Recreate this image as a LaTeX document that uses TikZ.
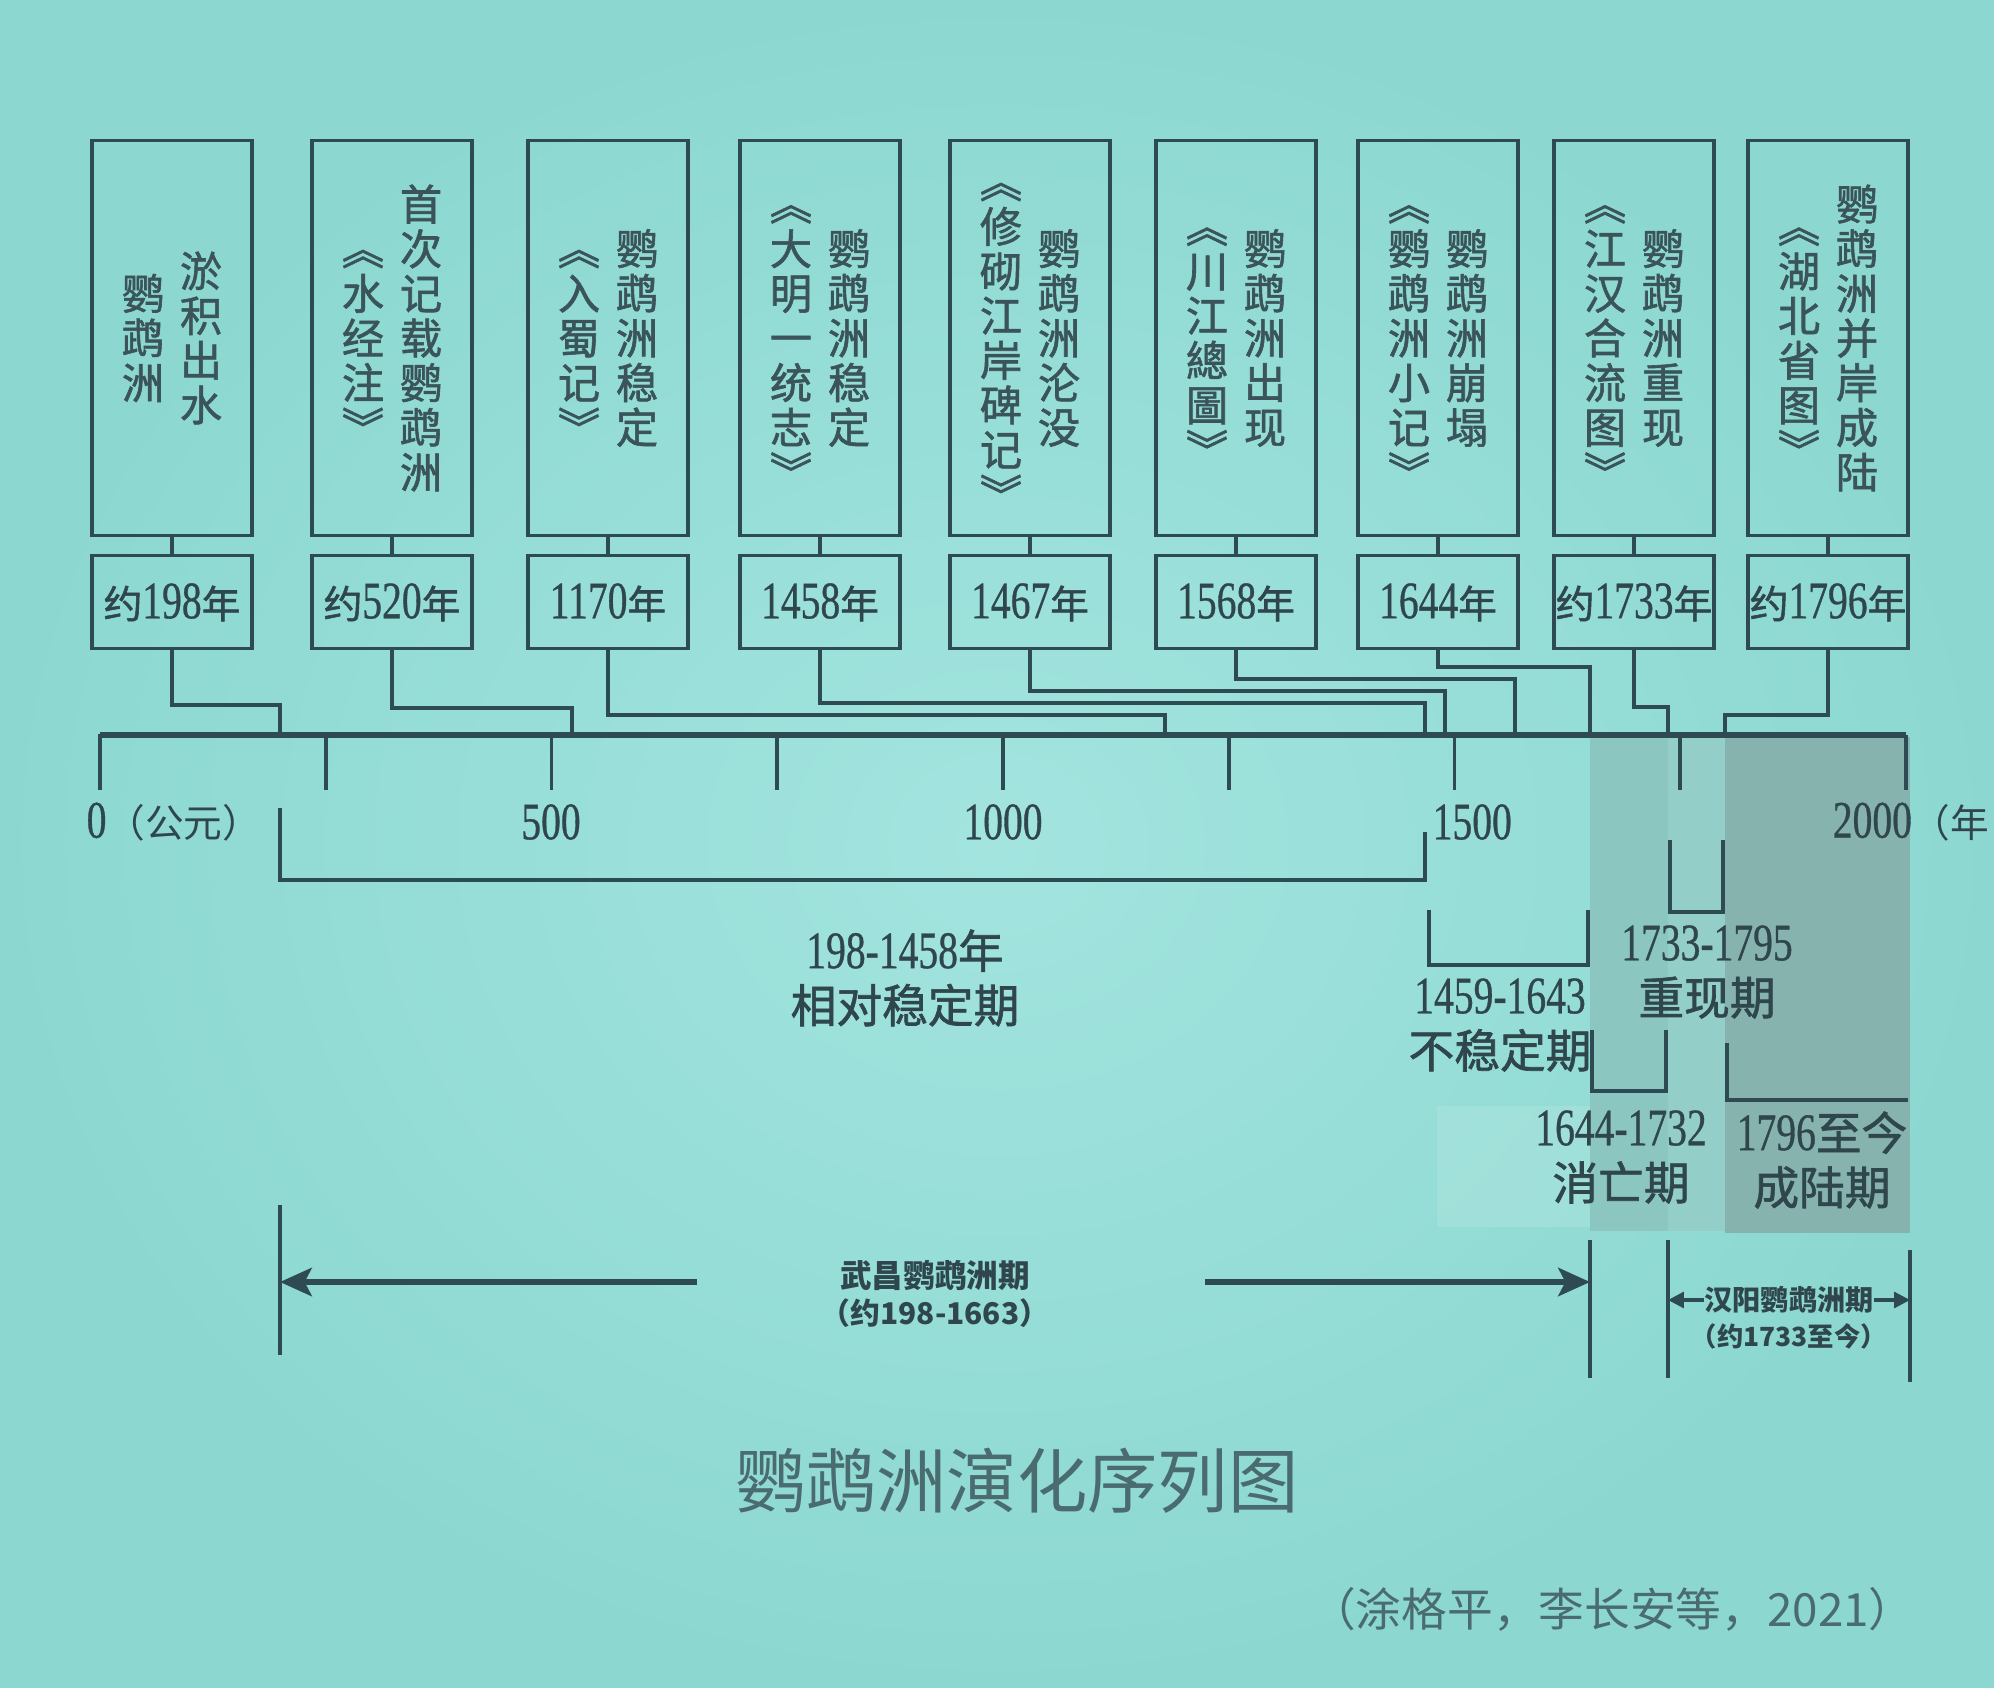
\documentclass[tikz,border=0pt]{standalone}
\usepackage{fontspec}
\setmainfont{Noto Sans CJK SC}
\newfontfamily\cjkb[FakeBold=1.4]{Noto Sans CJK SC}
\newfontfamily\numf[FakeStretch=0.75, FakeBold=0.6]{Liberation Serif}
\usetikzlibrary{positioning, arrows.meta, calc}
\definecolor{cBg}{HTML}{8CD8D1}
\definecolor{cBgIn}{HTML}{A3E4DF}
\definecolor{cInk}{HTML}{2E4A53}
\definecolor{cTxt}{HTML}{2F464D}
\definecolor{cBoxTxt}{HTML}{3A5459}
\definecolor{cSoft}{HTML}{4A6C70}
\definecolor{cShA}{HTML}{8CC6C0}
\definecolor{cShB}{HTML}{93CEC8}
\definecolor{cShC}{HTML}{86B3AD}
\tikzset{
  evbox/.style  ={draw=cInk, line width=0.9pt, minimum width=1.6cm,
                  minimum height=3.95cm, inner sep=0pt, text=cBoxTxt},
  yrbox/.style  ={draw=cInk, line width=0.9pt, minimum width=1.6cm,
                  minimum height=0.93cm, inner sep=0pt, text=cTxt,
                  font=\cjkb\fontsize{11}{13}\selectfont},
  link/.style   ={draw=cInk, line width=1.1pt},
  axisln/.style ={draw=cInk, line width=1.9pt},
  ticklbl/.style={text=cTxt, inner sep=0pt, font=\fontsize{11}{13}\selectfont},
  phase/.style  ={text=cTxt, align=center, inner sep=0pt,
                  font=\cjkb\fontsize{13}{15.5}\selectfont},
  bigarr/.style ={draw=cInk, line width=1.7pt,
                  -{Stealth[length=9pt,width=8pt,inset=2pt]}},
  smarr/.style  ={draw=cInk, line width=0.9pt,
                  -{Triangle[length=4.5pt,width=4.5pt]}},
  era/.style    ={text=cTxt, inner sep=0pt},
}
\newcommand{\nm}[1]{{\numf\fontsize{15}{15}\selectfont #1}}
\newcommand{\vopen}{\rotatebox[origin=c]{-90}{《}}
\newcommand{\vclose}{\rotatebox[origin=c]{-90}{》}}
\newcommand{\colpair}[2]{%
  \parbox[c]{12pt}{\centering\cjkb\fontsize{12}{12.7}\selectfont #2}%
  \hspace{4.5pt}%
  \parbox[c]{12pt}{\centering\cjkb\fontsize{12}{12.7}\selectfont #1}%
}

\begin{document}
\begin{tikzpicture}[x=0.01cm, y=-0.01cm, node distance=1.7mm]

  \shade[use as bounding box, inner color=cBgIn, outer color=cBg]
    (0,0) rectangle (1994,1688);
  \clip (0,0) rectangle (1994,1688);

  % ============================================================
  % PERIOD SHADING (behind everything else)
  % ============================================================
  \fill[white, opacity=0.12] (1437,1106) rectangle (1590,1227);
  \fill[cShA] (1590,737) rectangle (1668,1231);
  \fill[cShB] (1668,737) rectangle (1725,1231);
  \fill[cShC] (1725,737) rectangle (1910,1233);

  % ============================================================
  % EVENT BOXES (vertical text, right column read first)
  % ============================================================
  \node[evbox] (ev1) at (172,338) {\colpair{淤\\积\\出\\水}{鹦\\鹉\\洲}};
  \node[evbox] (ev2) at (392,338) {\colpair{首\\次\\记\\载\\鹦\\鹉\\洲}{\vopen\\水\\经\\注\\\vclose}};
  \node[evbox] (ev3) at (608,338) {\colpair{鹦\\鹉\\洲\\稳\\定}{\vopen\\入\\蜀\\记\\\vclose}};
  \node[evbox] (ev4) at (820,338) {\colpair{鹦\\鹉\\洲\\稳\\定}{\vopen\\大\\明\\一\\统\\志\\\vclose}};
  \node[evbox] (ev5) at (1030,338) {\colpair{鹦\\鹉\\洲\\沦\\没}{\vopen\\修\\砌\\江\\岸\\碑\\记\\\vclose}};
  \node[evbox] (ev6) at (1236,338) {\colpair{鹦\\鹉\\洲\\出\\现}{\vopen\\川\\江\\總\\圖\\\vclose}};
  \node[evbox] (ev7) at (1438,338) {\colpair{鹦\\鹉\\洲\\崩\\塌}{\vopen\\鹦\\鹉\\洲\\小\\记\\\vclose}};
  \node[evbox] (ev8) at (1634,338) {\colpair{鹦\\鹉\\洲\\重\\现}{\vopen\\江\\汉\\合\\流\\图\\\vclose}};
  \node[evbox] (ev9) at (1828,338) {\colpair{鹦\\鹉\\洲\\并\\岸\\成\\陆}{\vopen\\湖\\北\\省\\图\\\vclose}};

  \node[yrbox, below=of ev1] (yr1) {约\nm{198}年};
  \node[yrbox, below=of ev2] (yr2) {约\nm{520}年};
  \node[yrbox, below=of ev3] (yr3) {\nm{1170}年};
  \node[yrbox, below=of ev4] (yr4) {\nm{1458}年};
  \node[yrbox, below=of ev5] (yr5) {\nm{1467}年};
  \node[yrbox, below=of ev6] (yr6) {\nm{1568}年};
  \node[yrbox, below=of ev7] (yr7) {\nm{1644}年};
  \node[yrbox, below=of ev8] (yr8) {约\nm{1733}年};
  \node[yrbox, below=of ev9] (yr9) {约\nm{1796}年};

  \draw[link] (ev1) -- (yr1);
  \draw[link] (ev2) -- (yr2);
  \draw[link] (ev3) -- (yr3);
  \draw[link] (ev4) -- (yr4);
  \draw[link] (ev5) -- (yr5);
  \draw[link] (ev6) -- (yr6);
  \draw[link] (ev7) -- (yr7);
  \draw[link] (ev8) -- (yr8);
  \draw[link] (ev9) -- (yr9);

  % ============================================================
  % TIME AXIS
  % ============================================================
  \draw[axisln] (100,735) -- (1906,735);
  \draw[link] (100,734) -- (100,790);
  \foreach \t in {250,500,...,2000}
    \draw[link] ({100+0.903*\t},735) -- ++(0,55);

  \node[ticklbl, anchor=west] (lb0) at (86,822) {\nm{0}（公元）};
  \node[ticklbl] (lb500) at (551,822) {\nm{500}};
  \node[ticklbl] (lb1000) at (1003,822) {\nm{1000}};
  \node[ticklbl, anchor=west] (lb1500) at (1432,822) {\nm{1500}};
  \node[ticklbl, anchor=east] (lb2000) at (1990,822) {\nm{2000}（年};

  \coordinate (t198)  at (280,735);
  \coordinate (t520)  at (572,735);
  \coordinate (t1170) at (1165,735);
  \coordinate (t1458) at (1425,735);
  \coordinate (t1467) at (1445,735);
  \coordinate (t1568) at (1515,735);
  \coordinate (t1644) at (1590,735);
  \coordinate (t1733) at (1668,735);
  \coordinate (t1796) at (1725,735);

  % --- year boxes down to the axis (nested levels, no crossings) ---
  \draw[link] (yr1.south) -- ++(0,55) -| (t198);
  \draw[link] (yr2.south) -- ++(0,58) -| (t520);
  \draw[link] (yr3.south) -- ++(0,65) -| (t1170);
  \draw[link] (yr4.south) -- ++(0,53) -| (t1458);
  \draw[link] (yr5.south) -- ++(0,41) -| (t1467);
  \draw[link] (yr6.south) -- ++(0,29) -| (t1568);
  \draw[link] (yr7.south) -- ++(0,17) -| (t1644);
  \draw[link] (yr8.south) -- ++(0,57) -| (t1733);
  \draw[link] (yr9.south) -- ++(0,65) -| (t1796);

  % ============================================================
  % PHASE BRACKETS + LABELS
  % ============================================================
  \draw[link] (280,808) |- (1425,880) -- (1425,832);
  \draw[link] (1429,910) |- (1588,965) -- (1588,910);
  \draw[link] (1670,840) |- (1723,912) -- (1723,840);
  \draw[link] (1592,1030) |- (1666,1091) -- (1666,1030);
  \draw[link] (1727,1043) |- (1908,1100);

  \node[phase] (ph1) at (905,978)  {\nm{198-1458}年\\相对稳定期};
  \node[phase] (ph2) at (1500,1025) {\nm{1459-1643}\\不稳定期};
  \node[phase] (ph3) at (1707,972)  {\nm{1733-1795}\\重现期};
  \node[phase] (ph4) at (1621,1157) {\nm{1644-1732}\\消亡期};
  \node[phase] (ph5) at (1822,1160) {\nm{1796}至今\\成陆期};

  % ============================================================
  % WUCHANG / HANYANG ERAS (bottom)
  % ============================================================
  \coordinate (lnA) at (280,1205);
  \coordinate (lnB) at (1590,1240);
  \coordinate (lnC) at (1668,1240);
  \coordinate (lnD) at (1910,1250);
  \draw[link] (lnA) -- ++(0,150);
  \draw[link] (lnB) -- ++(0,138);
  \draw[link] (lnC) -- ++(0,138);
  \draw[link] (lnD) -- ++(0,132);

  \node[era, font=\bfseries\fontsize{9}{11}\selectfont] (wc1) at (935,1276) {武昌鹦鹉洲期};
  \node[era, font=\bfseries\fontsize{8.5}{10}\selectfont] (wc2) at (935,1313) {（约198-1663）};
  \coordinate (wcL) at (697,1282);
  \coordinate (wcR) at (1205,1282);
  \draw[bigarr] (wcL) -- (wcL -| lnA);
  \draw[bigarr] (wcR) -- (wcR -| lnB);

  \node[era, font=\bfseries\fontsize{8}{10}\selectfont] (hy1) at (1789,1300) {汉阳鹦鹉洲期};
  \node[era, font=\bfseries\fontsize{7.5}{9}\selectfont] (hy2) at (1789,1336) {（约1733至今）};
  \draw[smarr] (hy1.west) -- (hy1.west -| lnC);
  \draw[smarr] (hy1.east) -- (hy1.east -| lnD);

  % ============================================================
  % TITLE + SOURCE
  % ============================================================
  \node[text=cSoft, font=\fontsize{20}{24}\selectfont] (title) at (1017,1481) {鹦鹉洲演化序列图};
  \node[text=cSoft, anchor=east, font=\fontsize{13}{15}\selectfont] (cite) at (1927,1609) {（涂格平，李长安等，2021）};

\end{tikzpicture}
\end{document}
